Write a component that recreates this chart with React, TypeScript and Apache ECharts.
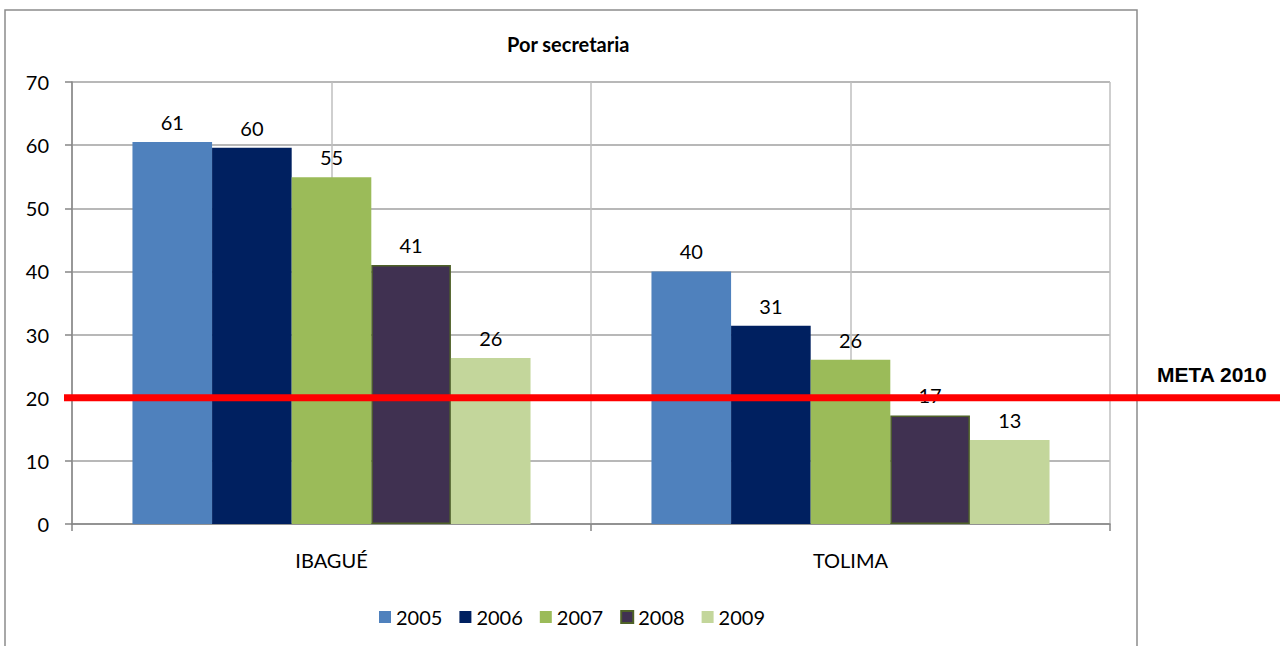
import React, { useEffect, useRef } from "react";
import * as echarts from "echarts";

const categories = ["IBAGUÉ", "TOLIMA"];
const years = ["2005", "2006", "2007", "2008", "2009"];
const values2005 = [60.5, 40];
const values2006 = [59.6, 31.4];
const values2007 = [54.9, 26];
const values2008 = [41, 17.2];
const values2009 = [26.3, 13.3];
const seriesValues = [values2005, values2006, values2007, values2008, values2009];
const colors = ["#4F81BD", "#002060", "#9BBB59", "#403151", "#C3D69B"];
const yTicks = { min: 0, max: 70, interval: 10 };
const META_VALUE = 20;
const META_LABEL = "META 2010";
const TITLE = "Por secretaria";

const FONT = "Lato, 'Open Sans', sans-serif";
const FS = 20;

export default function App() {
  const ref = useRef<HTMLDivElement>(null);
  useEffect(() => {
    if (!ref.current) return;
    const chart = echarts.init(ref.current, null, { renderer: "svg" });
    const series = years.map((y, i) => ({
      name: y,
      type: "bar",
      xAxisIndex: 0,
      yAxisIndex: 0,
      data: seriesValues[i],
      barGap: "0%",
      barCategoryGap: "23.3%",
      itemStyle: {
        color: colors[i],
        borderColor: i === 3 ? "#4F6228" : undefined,
        borderWidth: i === 3 ? 1.5 : 0,
      },
      label: {
        show: true,
        position: "top",
        distance: 10,
        color: "#000",
        fontFamily: FONT,
        fontSize: FS,
        formatter: (p: any) => String(Math.round(p.value)),
      },
    }));
    const option: any = {
      animation: false,
      backgroundColor: "#fff",
      title: {
        text: TITLE,
        left: 502,
        top: 29,
        textStyle: { fontFamily: FONT, fontSize: FS, fontWeight: "bold", color: "#000" },
      },
      legend: {
        data: years,
        left: 374,
        top: 602,
        itemWidth: 12,
        itemHeight: 12,
        itemGap: 17,
        icon: "rect",
        textStyle: { fontFamily: FONT, fontSize: FS, color: "#000" },
      },
      grid: { left: 72, right: 170, top: 82, bottom: 122, containLabel: false },
      xAxis: [
        {
          type: "category",
          data: categories,
          axisLine: { lineStyle: { color: "#868686", width: 1.5 } },
          axisTick: { show: true, length: 7, lineStyle: { color: "#868686", width: 1.5 } },
          axisLabel: { margin: 26, color: "#000", fontFamily: FONT, fontSize: FS },
          splitLine: { show: false },
        },
        {
          type: "value",
          min: 0,
          max: 4,
          interval: 1,
          position: "top",
          axisLine: { show: false },
          axisTick: { show: false },
          axisLabel: { show: false },
          splitLine: { show: true, lineStyle: { color: "#BFBFBF", width: 1.5 } },
        },
      ],
      yAxis: {
        type: "value",
        min: yTicks.min,
        max: yTicks.max,
        interval: yTicks.interval,
        axisLine: { show: true, lineStyle: { color: "#868686", width: 1.5 } },
        axisTick: { show: true, length: 7, lineStyle: { color: "#868686", width: 1.5 } },
        axisLabel: { margin: 23, color: "#000", fontFamily: FONT, fontSize: FS },
        splitLine: { show: true, lineStyle: { color: "#A0A0A0", width: 1.5 } },
      },
      series,
    };
    chart.setOption(option);
    const yPix = chart.convertToPixel({ yAxisIndex: 0 }, META_VALUE) as number;
    chart.setOption({
      graphic: [
        {
          type: "rect",
          shape: { x: 5, y: 10, width: 1132, height: 650 },
          style: { fill: "none", stroke: "#8C8C8C", lineWidth: 1.5 },
          silent: true,
          z: 0,
        },
        {
          type: "line",
          shape: { x1: 64, y1: yPix, x2: 1280, y2: yPix },
          style: { stroke: "#FF0000", lineWidth: 7 },
          z: 100,
        },
        {
          type: "text",
          x: 1157,
          y: yPix - 23,
          style: {
            text: META_LABEL,
            fill: "#000",
            font: "bold 21px 'Liberation Sans', Arial, sans-serif",
            textVerticalAlign: "middle",
          },
          z: 100,
        },
      ],
    });
    return () => chart.dispose();
  }, []);
  return <div ref={ref} style={{ width: 1280, height: 646, position: "absolute", left: 0, top: 0 }} />;
}
